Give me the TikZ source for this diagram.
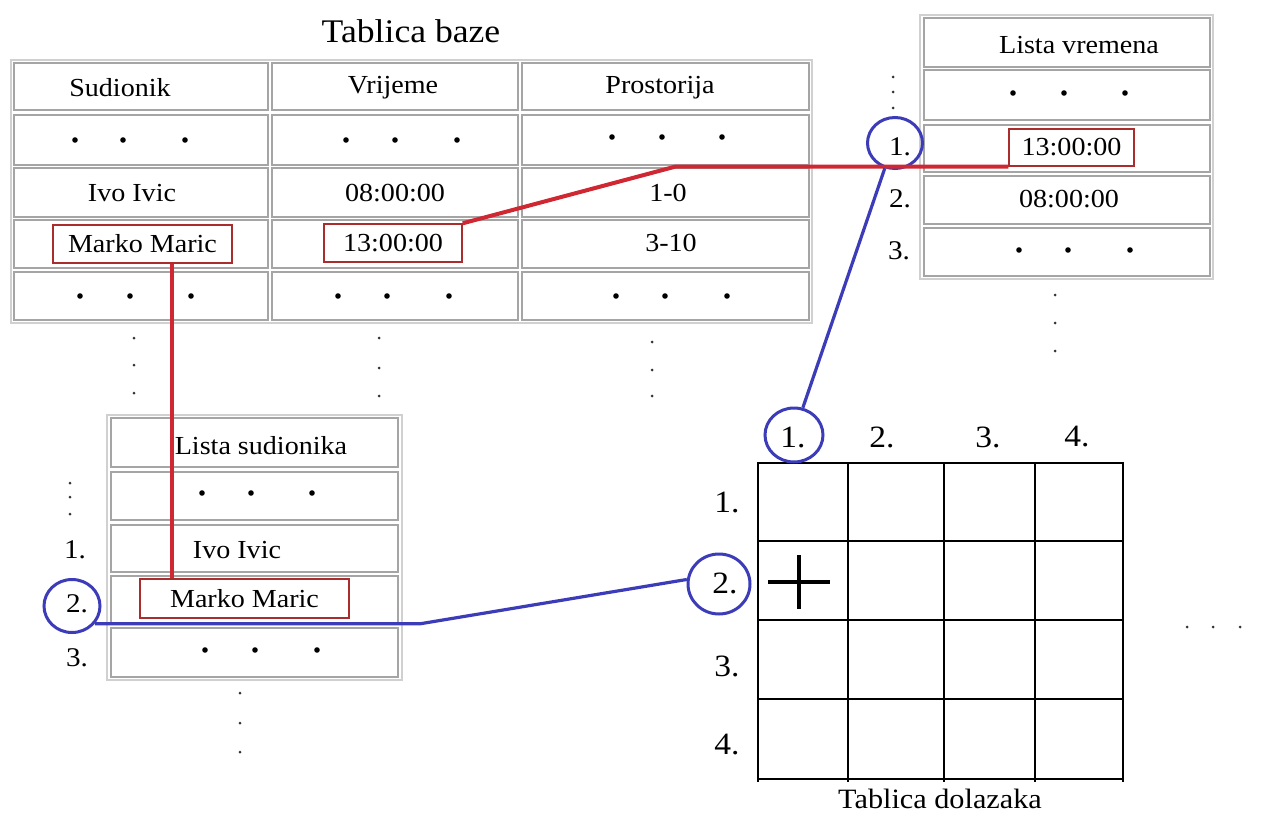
\documentclass[tikz,border=0pt]{standalone}
\usepackage{fontspec}
\setmainfont{Liberation Serif}[FakeStretch=1.08]
\usetikzlibrary{shapes.geometric}
\definecolor{redln}{RGB}{208,40,50}
\definecolor{redbx}{RGB}{170,45,45}
\definecolor{bluln}{RGB}{60,60,185}
\definecolor{cellgray}{RGB}{165,165,165}
\definecolor{outgray}{RGB}{208,208,208}
\tikzset{
  cellst/.style={draw=cellgray, line width=1.8},
  outerst/.style={draw=outgray, line width=2.4},
  txt/.style={inner sep=0, font=\fontsize{26}{30}\selectfont},
  lbl/.style={inner sep=0, font=\fontsize{27}{30}\selectfont},
  glbl/.style={inner sep=0, font=\fontsize{31}{34}\selectfont},
  ttl/.style={inner sep=0, font=\fontsize{33}{36}\selectfont},
  redboxst/.style={draw=redbx, line width=1.4, inner sep=0, font=\fontsize{26}{30}\selectfont},
  redconn/.style={draw=redln, line width=4},
  bluconn/.style={draw=bluln, line width=3.2},
  bluecirc/.style={ellipse, draw=bluln, line width=3, inner sep=0},
  gridline/.style={draw=black, line width=1.8},
  bigdot/.style={fill=black},
  smalldot/.style={fill=black!80}
}
\newcommand{\tdots}[4]{\fill[bigdot] (#2,#1) circle (2.8) (#3,#1) circle (2.8) (#4,#1) circle (2.8);}
\newcommand{\vdotsx}[4]{\fill[smalldot] (#1,#2) circle (1.5) (#1,#3) circle (1.5) (#1,#4) circle (1.5);}
\begin{document}
\begin{tikzpicture}[x=1pt,y=-1pt]
\fill[white] (0,0) rectangle (1262,816);
\useasboundingbox (0,0) rectangle (1262,816);

% ---------- Tablica baze ----------
\node[ttl] (tb) at (411,31) {Tablica baze};
\draw[outerst] (11,60) rectangle (812,323);
\foreach \xa/\xb in {14/268,272/518,522/809}{
  \foreach \ya/\yb in {63/110,115/165,168/217,220/268,272/320}{
    \draw[cellst] (\xa,\ya) rectangle (\xb,\yb);
  }
}
\node[txt] (hs) at (120,88) {Sudionik};
\node[txt] (hv) at (393,88) {Vrijeme};
\node[txt] (hp) at (660,88) {Prostorija};
\tdots{140}{75}{123}{185}
\tdots{140}{346}{395}{457}
\tdots{137}{612}{662}{722}
\node[txt] (ii1) at (132,193) {Ivo Ivic};
\node[txt] (t08a) at (395,193) {08:00:00};
\node[txt] (r10) at (668,193) {1-0};
\node[redboxst, minimum width=179, minimum height=38] (mm1) at (142.5,244) {Marko Maric};
\node[redboxst, minimum width=138, minimum height=38] (t13a) at (393,243) {13:00:00};
\node[txt] (r310) at (671,243) {3-10};
\tdots{296}{80}{130}{191}
\tdots{296}{338}{387}{449}
\tdots{296}{616}{665}{727}
\vdotsx{134}{338}{365}{393}
\vdotsx{379}{338}{368}{396}
\vdotsx{652}{342}{370}{396}

% ---------- Lista vremena ----------
\draw[outerst] (920,15) rectangle (1213,279);
\foreach \ya/\yb in {18/67,70/120,125/172,176/224,228/276}{
  \draw[cellst] (924,\ya) rectangle (1210,\yb);
}
\node[txt] (lv) at (1079,45) {Lista vremena};
\tdots{93}{1013}{1064}{1125}
\node[redboxst, minimum width=125, minimum height=37] (t13b) at (1071.5,147.5) {13:00:00};
\node[txt] (t08b) at (1069,199) {08:00:00};
\tdots{250}{1019}{1068}{1130}
\vdotsx{893}{77}{92}{108}
\node[lbl] (v1) at (900,147) {1.};
\node[lbl] (v2) at (900,199) {2.};
\node[lbl] (v3) at (899,251) {3.};
\node[bluecirc, minimum width=55, minimum height=51] (c1v) at (895,143) {};
\vdotsx{1055}{295}{323}{351}

% ---------- Lista sudionika ----------
\draw[outerst] (107,415) rectangle (402,680);
\foreach \ya/\yb in {418/467,472/520,525/572,576/623,628/677}{
  \draw[cellst] (111,\ya) rectangle (398,\yb);
}
\node[txt] (ls) at (261,446) {Lista sudionika};
\tdots{493}{202}{251}{312}
\node[txt] (ii2) at (237,550) {Ivo Ivic};
\node[redboxst, minimum width=209, minimum height=39] (mm2) at (244.5,598.5) {Marko Maric};
\tdots{650}{205}{255}{317}
\vdotsx{70}{483}{497}{514}
\node[lbl] (s1) at (75,550) {1.};
\node[lbl] (s2) at (77,604) {2.};
\node[lbl] (s3) at (77,658) {3.};
\node[bluecirc, minimum width=56, minimum height=53] (c2s) at (72,606) {};
\vdotsx{240}{693}{723}{752}

% ---------- Tablica dolazaka ----------
\foreach \x in {758,848,944,1035,1123} \draw[gridline] (\x,463) -- (\x,782);
\foreach \y in {463,541,620,699,779} \draw[gridline] (757,\y) -- (1124,\y);
\node[glbl] (gc1) at (793,437) {1.};
\node[glbl] (gc2) at (882,437) {2.};
\node[glbl] (gc3) at (988,437) {3.};
\node[glbl] (gc4) at (1077,437) {4.};
\node[glbl] (gr1) at (727,502) {1.};
\node[glbl] (gr2) at (725,583) {2.};
\node[glbl] (gr3) at (727,666) {3.};
\node[glbl] (gr4) at (727,745) {4.};
\node[bluecirc, minimum width=58, minimum height=54] (g1c) at (794,435) {};
\node[bluecirc, minimum width=62, minimum height=60] (g2c) at (719,584) {};
\draw[line width=4.5] (768,582) -- (830,582) (799,555) -- (799,609);
\node[lbl, font=\fontsize{28}{30}\selectfont] (td) at (940,799) {Tablica dolazaka};
\fill[smalldot] (1187,627) circle (1.5) (1213,627) circle (1.5) (1240,627) circle (1.5);

% ---------- connectors ----------
\coordinate (redx) at (172,0);
\draw[redconn] (mm1.south -| redx) -- (mm2.north -| redx);
\coordinate (rbend) at (675,0);
\draw[redconn] (t13a.north east) -- (rbend |- t13b.south west) -- (t13b.south west);
\draw[bluconn] (c1v.-112) -- (g1c.72);
\coordinate (kink) at (420,0);
\path (c2s.-38) coordinate (s2out);
\draw[bluconn] (s2out) -- (s2out -| kink) -- (g2c.172);
\end{tikzpicture}
\end{document}
